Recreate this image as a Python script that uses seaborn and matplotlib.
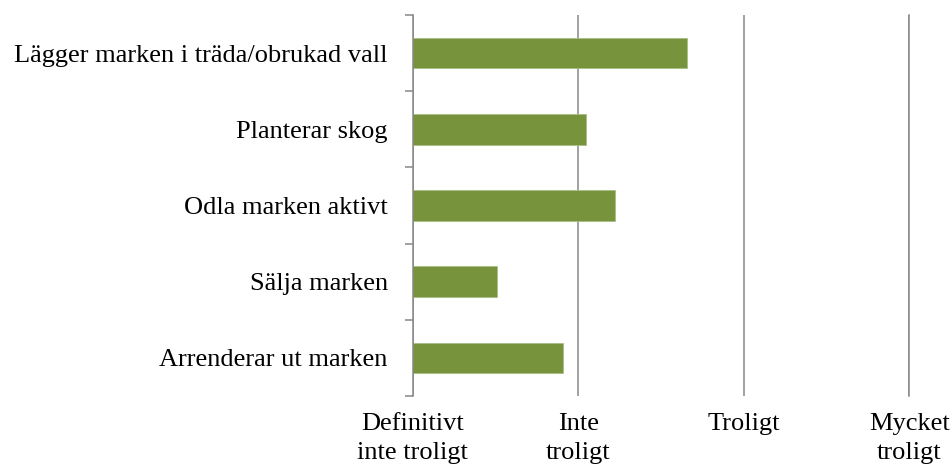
import pandas as pd
import matplotlib.pyplot as plt
import seaborn as sns
from matplotlib.ticker import FixedLocator

# Answer categories (top to bottom) and mean score on a 1-4 scale
alternatives = [
    "Lägger marken i träda/obrukad vall",
    "Planterar skog",
    "Odla marken aktivt",
    "Sälja marken",
    "Arrenderar ut marken",
]
scores = [2.66, 2.05, 2.22, 1.51, 1.91]

scale_ticks = [1, 2, 3, 4]
scale_labels = ["Definitivt\ninte troligt", "Inte\ntroligt", "Troligt", "Mycket\ntroligt"]

df = pd.DataFrame({"Alternativ": alternatives, "Poäng": scores})

sns.set_style("white")
plt.rcParams["font.family"] = ["Liberation Serif", "DejaVu Serif"]
plt.rcParams["text.color"] = "black"
plt.rcParams["xtick.color"] = "black"
plt.rcParams["ytick.color"] = "black"

grey = "#878787"
fig = plt.figure(figsize=(9.53, 4.66), dpi=100)
ax = fig.add_axes([0.433, 0.15, 0.521, 0.818])

sns.barplot(data=df, x="Poäng", y="Alternativ", order=alternatives,
            color="#77933C", width=0.4, saturation=1, ax=ax,
            edgecolor="#a9bf85", linewidth=0.6)

ax.set_xlim(1, 4)
ax.set_ylim(4.5, -0.5)
ax.set_xticks(scale_ticks)
ax.set_xticklabels(scale_labels, fontsize=19, linespacing=1.42)
ax.tick_params(axis="x", length=0, pad=12, labelcolor="black")
ax.tick_params(axis="y", which="major", length=0, pad=18, labelsize=19, labelcolor="black")
ax.yaxis.set_minor_locator(FixedLocator([i - 0.5 for i in range(len(alternatives) + 1)]))
ax.tick_params(axis="y", which="minor", left=True, length=6, width=1.1,
               color=grey, direction="out")

ax.grid(axis="x", color=grey, linewidth=1.1)
ax.set_axisbelow(True)
for side in ["top", "bottom"]:
    ax.spines[side].set_visible(False)
for side in ["left", "right"]:
    ax.spines[side].set_color(grey)
    ax.spines[side].set_linewidth(1.1)
ax.spines["left"].set_zorder(5)

ax.set_xlabel("")
ax.set_ylabel("")

plt.savefig("out.png", dpi=100)
